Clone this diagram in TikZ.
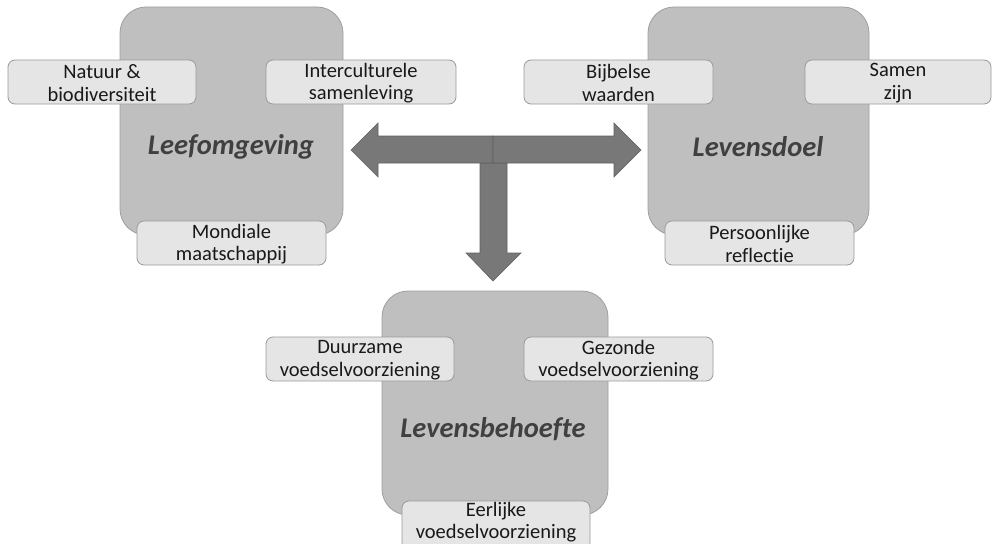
\documentclass[tikz,border=0pt]{standalone}
\usepackage{fontspec}
\setmainfont{Carlito}[Ligatures=NoCommon]
\begin{document}
\begin{tikzpicture}[x=1pt,y=-1pt,
  bigbox/.style={draw=black!38,fill=black!25,line width=0.8pt,rounded corners=26pt},
  smallbox/.style={draw=black!40,fill=black!10,line width=0.8pt,rounded corners=7pt},
  lbl/.style={font=\fontsize{20.5}{22.5}\selectfont,align=center,text=black!90},
  title/.style={font=\fontsize{28.5}{30}\selectfont\bfseries\itshape,text=black!75},
  blockarrow/.style={fill=black!53,draw=black!62,line width=0.6pt}]
\clip (0,0) rectangle (992,543);
\useasboundingbox (0,0) rectangle (992,543);
% big boxes
\draw[bigbox] (120,7) rectangle (343,235);
\draw[bigbox] (648,7) rectangle (869,235);
\draw[bigbox] (382,291) rectangle (608,515);
% titles
\node[title] (leef) at (231,147) {Leefomgeving};
\node[title] (doel) at (758,147) {Levensdoel};
\node[title] (behoefte) at (493,429) {Levensbehoefte};
% small boxes
\newcommand{\smallb}[5]{\draw[smallbox] (#1,#2) rectangle (#3,#4);
  \node[lbl] at ({(#1+#3)/2},{(#2+#4)/2+1}) {#5};}
\smallb{8}{60}{196}{104}{Natuur \&\\biodiversiteit}
\smallb{266}{60}{456}{104}{Interculturele\\samenleving}
\smallb{137}{221}{326}{265}{Mondiale\\maatschappij}
\smallb{524}{60}{713}{104}{Bijbelse\\waarden}
\smallb{805}{60}{991}{104}{Samen\\zijn}
\smallb{665}{221}{854}{265}{Persoonlijke\\reflectie}
\smallb{266}{337}{454}{381}{Duurzame\\voedselvoorziening}
\smallb{524}{337}{713}{381}{Gezonde\\voedselvoorziening}
\draw[smallbox] (402,501) rectangle (590,550);
\node[lbl] at (496,522) {Eerlijke\\voedselvoorziening};
% T arrow
\coordinate (c) at (493,150);
\draw[blockarrow] (480,163) -- (480,253) -- (466,253) -- (493,281) -- (521,253) -- (507,253) -- (507,163) -- cycle;
\draw[blockarrow] (c) -- (493,136) -- (378,136) -- (378,123) -- (351,150) -- (378,177) -- (378,163) -- (493,163) -- cycle;
\draw[blockarrow] (c) -- (493,136) -- (614,136) -- (614,123) -- (641,150) -- (614,177) -- (614,163) -- (493,163) -- cycle;
\end{tikzpicture}
\end{document}
